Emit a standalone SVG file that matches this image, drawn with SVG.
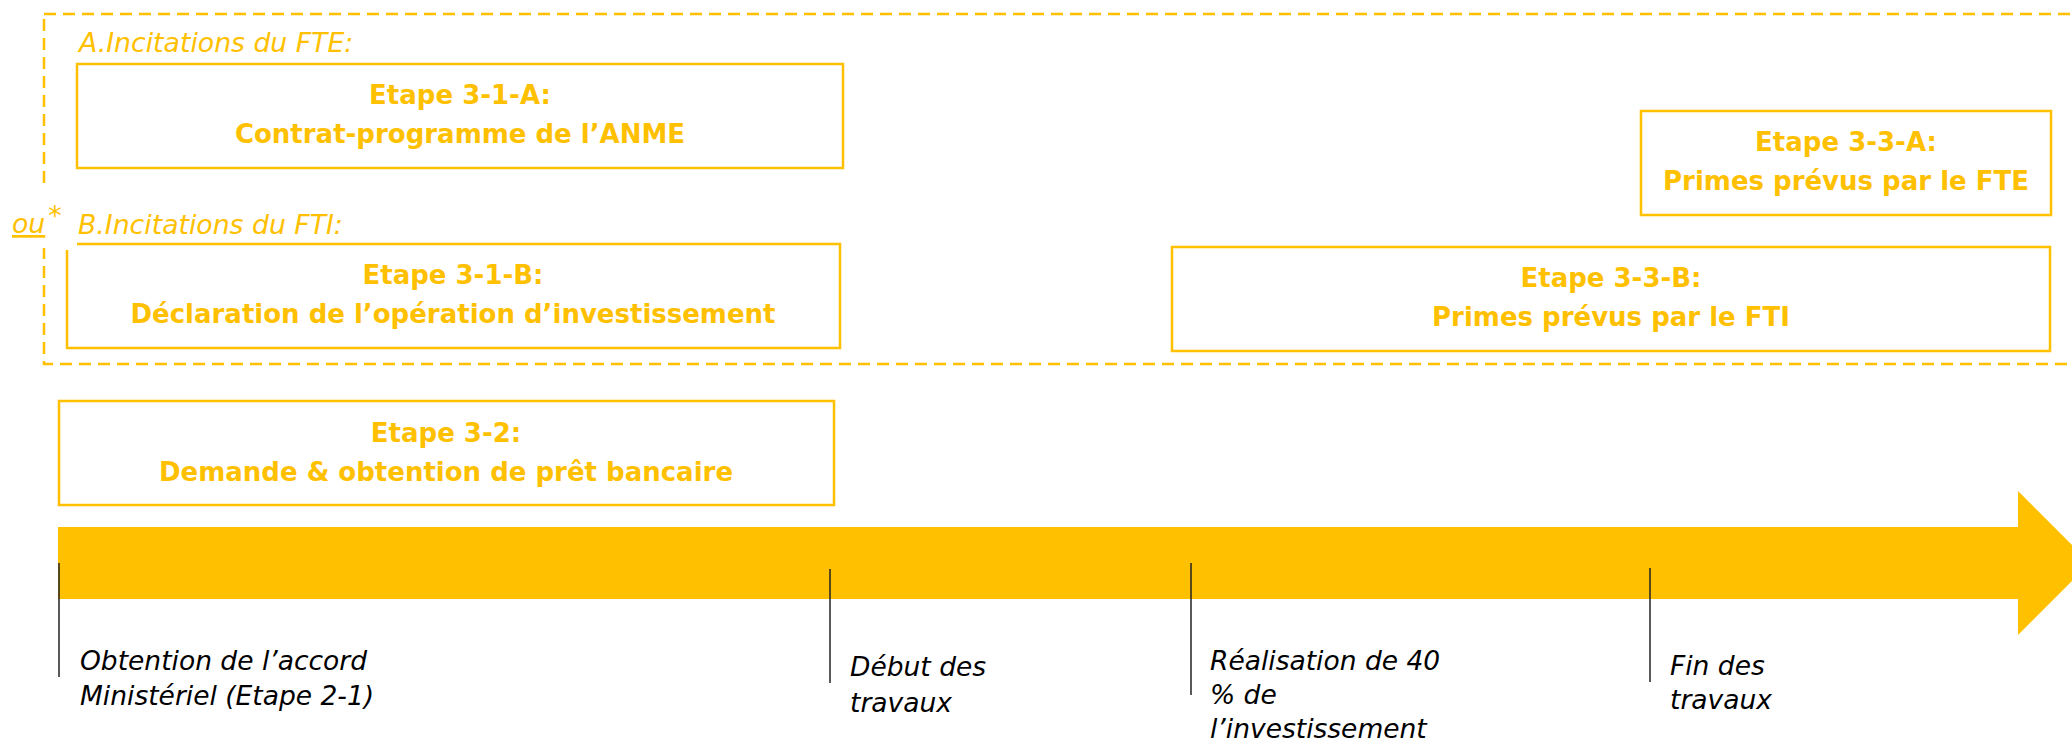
<svg xmlns="http://www.w3.org/2000/svg" width="2072" height="743" viewBox="0 0 2072 743">
  <style>
    .box { fill: #FFFFFF; stroke: #FFC000; stroke-width: 2.5; }
    .title { font-family: "DejaVu Sans", "Liberation Sans", sans-serif; font-weight: bold; font-size: 26px; fill: #FFC000; text-anchor: middle; }
    .sect { font-family: "DejaVu Sans", "Liberation Sans", sans-serif; font-style: italic; font-size: 26.7px; fill: #FFC000; }
    .lbl { font-family: "DejaVu Sans", "Liberation Sans", sans-serif; font-style: italic; font-size: 26.5px; fill: #000000; }
    .tick { stroke: #222222; stroke-width: 1.5; }
  </style>

  <g id="group-frame">
    <rect x="44" y="14" width="2100" height="350" fill="none" stroke="#FFC000" stroke-width="2.5" stroke-dasharray="12 7"/>
    <rect x="6" y="190" width="56" height="58" fill="#FFFFFF"/>
    <text class="sect" x="79" y="52">A.Incitations du FTE:</text>
    <text class="sect" x="78" y="234">B.Incitations du FTI:</text>
    <text class="sect" x="12" y="233"><tspan text-decoration="underline">ou</tspan><tspan dx="3" dy="-8">*</tspan></text>
  </g>

  <g id="timeline">
    <path d="M58,527 H2018 V491 L2090,563 L2018,635 V599 H58 Z" fill="#FFC000"/>
  </g>

  <g id="connectors">
    <line class="tick" x1="59" y1="563" x2="59" y2="677"/>
    <line class="tick" x1="830" y1="569" x2="830" y2="683"/>
    <line class="tick" x1="1191" y1="563" x2="1191" y2="695"/>
    <line class="tick" x1="1650" y1="568" x2="1650" y2="682"/>
  </g>

  <g id="node-3-1-A">
    <rect class="box" x="77" y="64" width="766" height="104"/>
    <text class="title" x="460" y="104">Etape 3-1-A:</text>
    <text class="title" x="460" y="143">Contrat-programme de l’ANME</text>
  </g>

  <g id="node-3-1-B">
    <path class="box" d="M77,244 H840 V348 H67 V250" fill="none"/>
    <text class="title" x="453" y="284">Etape 3-1-B:</text>
    <text class="title" x="453" y="323">Déclaration de l’opération d’investissement</text>
  </g>

  <g id="node-3-2">
    <rect class="box" x="59" y="401" width="775" height="104"/>
    <text class="title" x="446" y="442">Etape 3-2:</text>
    <text class="title" x="446" y="481">Demande &amp; obtention de prêt bancaire</text>
  </g>

  <g id="node-3-3-A">
    <rect class="box" x="1641" y="111" width="410" height="104"/>
    <text class="title" x="1846" y="151">Etape 3-3-A:</text>
    <text class="title" x="1846" y="190">Primes prévus par le FTE</text>
  </g>

  <g id="node-3-3-B">
    <rect class="box" x="1172" y="247" width="878" height="104"/>
    <text class="title" x="1611" y="287">Etape 3-3-B:</text>
    <text class="title" x="1611" y="326">Primes prévus par le FTI</text>
  </g>

  <g id="milestone-1">
    <text class="lbl" x="80" y="670">Obtention de l’accord</text>
    <text class="lbl" x="80" y="705">Ministériel (Etape 2-1)</text>
  </g>
  <g id="milestone-2">
    <text class="lbl" x="850" y="676">Début des</text>
    <text class="lbl" x="850" y="712">travaux</text>
  </g>
  <g id="milestone-3">
    <text class="lbl" x="1210" y="670">Réalisation de 40</text>
    <text class="lbl" x="1210" y="704">% de</text>
    <text class="lbl" x="1210" y="738">l’investissement</text>
  </g>
  <g id="milestone-4">
    <text class="lbl" x="1670" y="675">Fin des</text>
    <text class="lbl" x="1670" y="709">travaux</text>
  </g>
</svg>
